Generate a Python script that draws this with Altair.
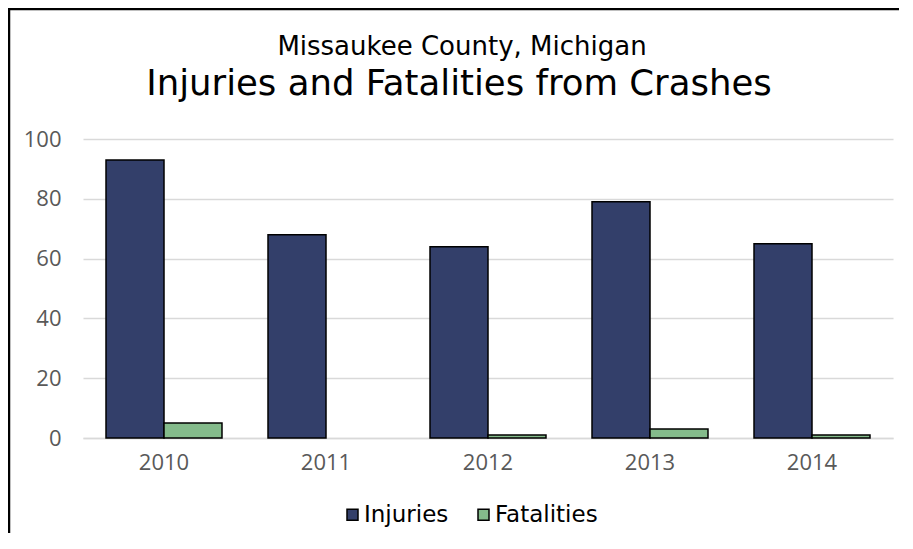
import altair as alt
import pandas as pd

years = ["2010", "2011", "2012", "2013", "2014"]
injuries = [93, 68, 64, 79, 65]
fatalities = [5, 0, 1, 3, 1]
series = ["Injuries", "Fatalities"]
colors = ["#333f6a", "#84bb8b"]
title_line1 = "Missaukee County, Michigan"
title_line2 = "Injuries and Fatalities from Crashes"

rows = []
for i, yr in enumerate(years):
    rows.append({"year": yr, "series": "Injuries", "value": injuries[i]})
    rows.append({"year": yr, "series": "Fatalities", "value": fatalities[i]})
df = pd.DataFrame(rows)

W, H = 810, 299
PAD_R, PAD_B = 6, 95
TFONT = "Tahoma, 'DejaVu Sans'"
AFONT = "'Segoe UI', 'Open Sans', 'Noto Sans'"

bars = alt.Chart(df).transform_filter("datum.value > 0").mark_bar(
    stroke="black", strokeWidth=1.5
).encode(
    x=alt.X("year:N", sort=years,
            scale=alt.Scale(paddingInner=0.284, paddingOuter=0.142),
            axis=alt.Axis(title=None, labelAngle=0, ticks=False, tickSize=0,
                          labelPadding=14, labelFont=AFONT, labelFontSize=22,
                          labelColor="#595959", domainColor="#d9d9d9",
                          domainWidth=1.5, grid=False)),
    xOffset=alt.XOffset("series:N", sort=series,
                        scale=alt.Scale(domain=series, paddingInner=0, paddingOuter=0)),
    y=alt.Y("value:Q", scale=alt.Scale(domain=[0, 100]),
            axis=alt.Axis(title=None, values=[0, 20, 40, 60, 80, 100], ticks=False,
                          tickSize=0, domain=False, labelPadding=22, labelFont=AFONT,
                          labelFontSize=22, labelColor="#595959",
                          gridColor="#d9d9d9", gridWidth=1.5)),
    color=alt.Color("series:N", sort=series,
                    scale=alt.Scale(domain=series, range=colors),
                    legend=alt.Legend(title=None, orient="none", direction="horizontal",
                                      legendX=258, legendY=364, symbolType="square",
                                      symbolSize=121, symbolStrokeColor="black",
                                      symbolStrokeWidth=1.5, labelFont=TFONT,
                                      labelFontSize=23, labelColor="black",
                                      columnPadding=23, labelOffset=0, padding=0)),
)

one = pd.DataFrame({"k": [0]})
border_top = alt.Chart(one).mark_rule(color="black", strokeWidth=2.5, clip=False).encode(
    x=alt.value(-74), x2=alt.value(W + PAD_R), y=alt.value(-130)
)
border_left = alt.Chart(one).mark_rule(color="black", strokeWidth=2.5, clip=False).encode(
    x=alt.value(-74), y=alt.value(-131), y2=alt.value(H + PAD_B)
)

t1 = alt.Chart(one).mark_text(
    text=title_line1, font=TFONT, fontSize=26, color="black",
    align="center", baseline="alphabetic"
).encode(x=alt.value(W / 2 - 26), y=alt.value(-84))

t2 = alt.Chart(one).mark_text(
    text=title_line2, font=TFONT, fontSize=35.5, color="black",
    align="center", baseline="alphabetic"
).encode(x=alt.value(W / 2 - 29), y=alt.value(-44))

chart = alt.layer(border_top, border_left, t1, t2, bars).properties(
    width=W, height=H,
    padding={"left": 75, "top": 131, "right": PAD_R, "bottom": PAD_B},
    autosize="none",
).configure_view(stroke=None)

chart.save("out.html", embed_options={"renderer": "svg", "actions": False})
